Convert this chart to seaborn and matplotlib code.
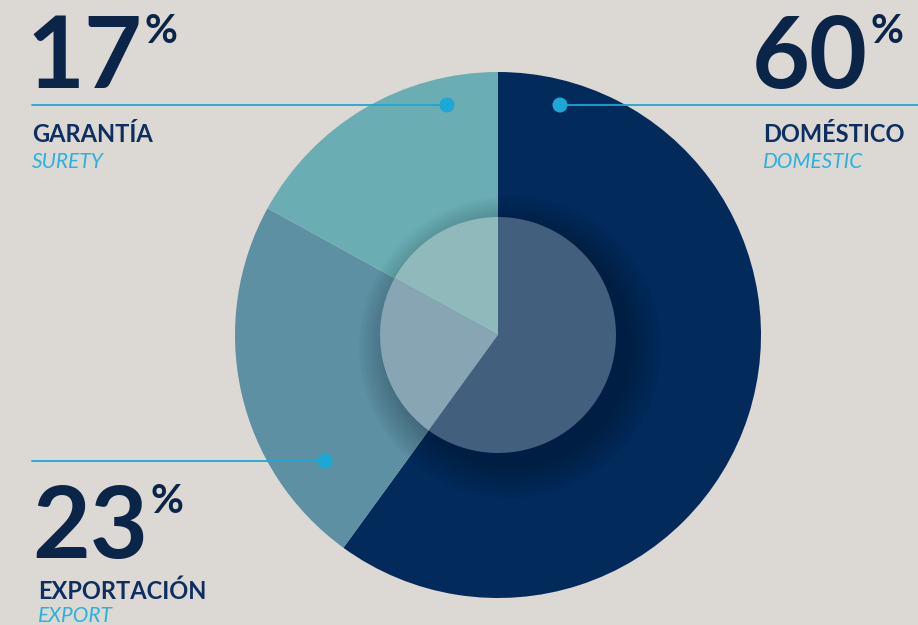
import matplotlib
matplotlib.use("Agg")
import matplotlib.pyplot as plt
import seaborn as sns
from matplotlib.patches import Circle

# ---- data ----
categories = ["DOMÉSTICO", "EXPORTACIÓN", "GARANTÍA"]
categories_en = ["DOMESTIC", "EXPORT", "SURETY"]
values = [60, 23, 17]
value_labels = ["60", "23", "17"]

sns.set_theme(style="white")
plt.rcParams['font.family'] = ['Lato', 'DejaVu Sans']

BG = "#dcd8d4"
NAVY = "#0a2548"
LABEL_NAVY = "#0d2f5f"
CYAN = "#1ba8d4"
CYAN_T = "#2ab2dc"
slice_colors = ["#022a5a", "#5d90a3", "#6aaeb3"]
inner_colors = ["#435f7e", "#87a5b2", "#8fb9bb"]

W, H = 918, 625
fig = plt.figure(figsize=(W / 100, H / 100), dpi=100, facecolor=BG)
ax = fig.add_axes([0, 0, 1, 1])
ax.set_facecolor(BG)

cx, cy, R, r_in = 498, 290, 263, 118
ax.pie(values, colors=slice_colors, startangle=90, counterclock=False,
       center=(cx, cy), radius=R, frame=True, wedgeprops=dict(linewidth=0))

# soft shadow around inner circle (only visible outside it)
clip = Circle((cx, cy), R, transform=ax.transData)
for i in range(12):
    r = r_in + 33 - i * 2.8
    s = Circle((cx + 12, cy - 12), r, color="#000a1a", alpha=0.025, lw=0, zorder=2)
    s.set_clip_path(clip)
    ax.add_patch(s)

# inner (lighter) pie
inner, _ = ax.pie(values, colors=inner_colors, startangle=90, counterclock=False,
                  center=(cx, cy), radius=r_in, frame=True,
                  wedgeprops=dict(linewidth=0))
for w in inner:
    w.set_zorder(3)

ax.set_xlim(0, W)
ax.set_ylim(0, H)
ax.set_aspect("equal")
ax.axis("off")

# connector lines and dots
line_y_top = H - 105
line_y_bot = H - 461
ax.plot([32, 447], [line_y_top, line_y_top], color=CYAN, lw=1.3, zorder=4)
ax.plot([560, W], [line_y_top, line_y_top], color=CYAN, lw=1.3, zorder=4)
ax.plot([32, 325], [line_y_bot, line_y_bot], color=CYAN, lw=1.3, zorder=4)
for x, y in [(447, line_y_top), (560, line_y_top), (325, line_y_bot)]:
    ax.add_patch(Circle((x, y), 7.5, color=CYAN, lw=0, zorder=5))

fig.canvas.draw()
renderer = fig.canvas.get_renderer()

def big(x, ybase, txt, gap=6):
    t = ax.text(x, ybase, txt, fontsize=72, fontweight="bold", color=NAVY,
                ha="left", va="baseline", zorder=6)
    bb = t.get_window_extent(renderer)
    xr = ax.transData.inverted().transform((bb.x1, bb.y0))[0]
    ax.text(xr + gap, ybase + 45, "%", fontsize=29, fontweight="bold", color=NAVY,
            ha="left", va="baseline", zorder=6)

def labels(x, ybase, es, en):
    ax.text(x, ybase, es, fontsize=17, fontweight="bold", color=LABEL_NAVY,
            ha="left", va="baseline")
    ax.text(x, ybase - 26, en, fontsize=15, style="italic", color=CYAN_T,
            ha="left", va="baseline")

# 17% GARANTÍA
big(26, H - 88, value_labels[2], gap=2)
labels(32, H - 142, categories[2], categories_en[2])

# 60% DOMÉSTICO
big(752, H - 88, value_labels[0], gap=2)
labels(763, H - 142, categories[0], categories_en[0])

# 23% EXPORTACIÓN
big(32, H - 558, value_labels[1], gap=2)
ax.text(38, H - 599, categories[1], fontsize=17, fontweight="bold", color=LABEL_NAVY,
        ha="left", va="baseline")
ax.text(38, H - 622, categories_en[1], fontsize=15, style="italic", color=CYAN_T,
        ha="left", va="baseline")

fig.savefig("out.png", dpi=100, facecolor=BG)
